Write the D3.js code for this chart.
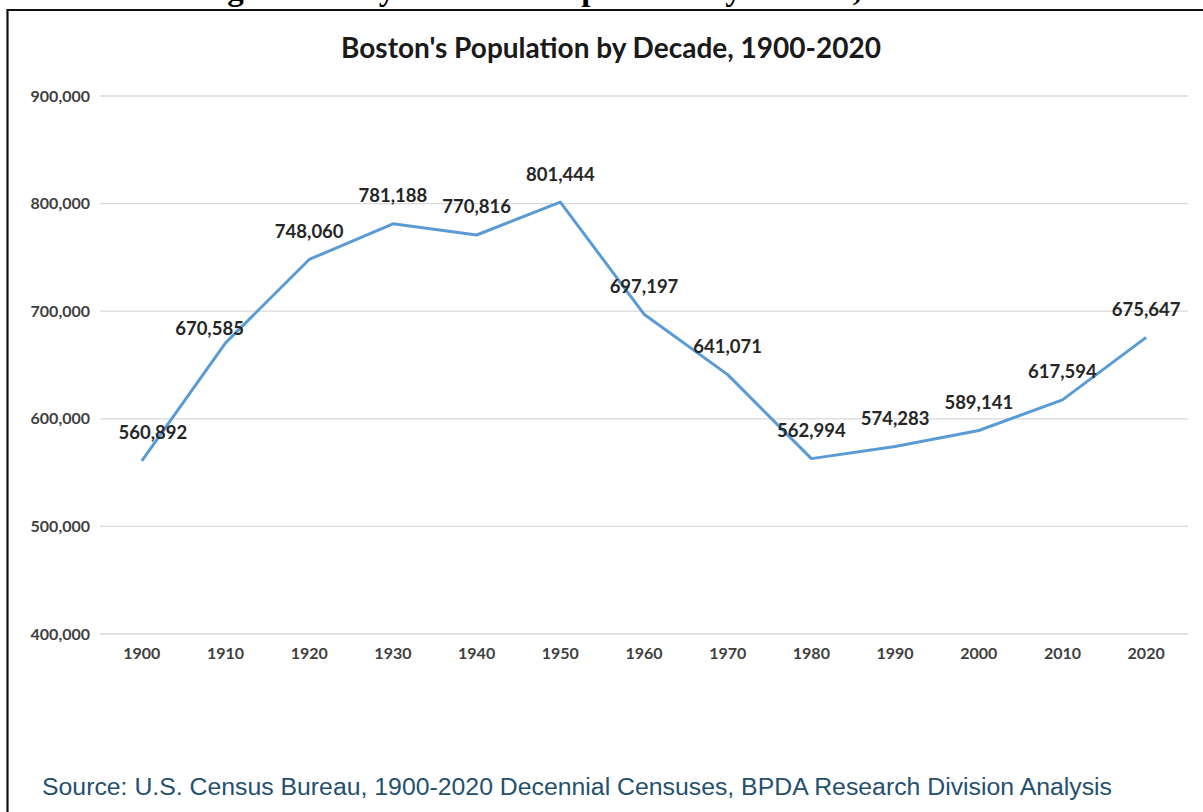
<!DOCTYPE html>
<meta charset="utf-8">
<title>Boston's Population by Decade</title>
<style>
	body {
		margin: 0;
		background: #fff;
	}

	svg {
		display: block;
	}

	.grid line {
		stroke: #d9d9d9;
		stroke-width: 1.3;
	}

	.tick-label {
		font-family: Lato, "Open Sans", sans-serif;
		font-weight: 700;
		font-size: 16px;
		fill: #404040;
	}

	.val-label {
		font-family: Lato, "Open Sans", sans-serif;
		font-weight: 700;
		font-size: 18.5px;
		fill: #262626;
	}
</style>

<body>
	<div id="chart"></div>

	<script src="https://cdn.jsdelivr.net/npm/d3@7"></script>
	<script>
		// les données
		var decades = ["1900", "1910", "1920", "1930", "1940", "1950", "1960",
			"1970", "1980", "1990", "2000", "2010", "2020"];
		var population = [560892, 670585, 748060, 781188, 770816, 801444, 697197,
			641071, 562994, 574283, 589141, 617594, 675647];
		var yTicks = [400000, 500000, 600000, 700000, 800000, 900000];

		var width = 1203,
			height = 812;

		var svg = d3.select("#chart").append("svg")
			.attr("width", width)
			.attr("height", height);

		// titre du document, coupé en haut comme dans l'original
		svg.append("text")
			.attr("x", 605)
			.attr("y", 0)
			.attr("text-anchor", "middle")
			.style("font-family", "'Liberation Serif', serif")
			.style("font-weight", "700")
			.style("font-size", "33px")
			.text("Figure 1: City of Boston Population by Decade, 1900-2020");

		// cadre
		svg.append("path")
			.attr("d", "M" + 7.5 + "," + height + "V" + 10 + "H" + width)
			.attr("fill", "none")
			.attr("stroke", "#111")
			.attr("stroke-width", 2.2);

		// titre du graphique
		svg.append("text")
			.attr("x", 611)
			.attr("y", 58)
			.attr("text-anchor", "middle")
			.style("font-family", "Lato, 'Open Sans', sans-serif")
			.style("font-weight", "700")
			.style("font-size", "28px")
			.style("fill", "#1a1a1a")
			.text("Boston's Population by Decade, 1900-2020");

		// échelles
		var x = d3.scaleBand()
			.domain(decades)
			.range([100, 1188]);

		var y = d3.scaleLinear()
			.domain([400000, 900000])
			.range([634, 96]);

		// grille
		svg.append("g")
			.attr("class", "grid")
			.selectAll("line")
			.data(yTicks)
			.enter().append("line")
			.attr("x1", 100)
			.attr("x2", 1188)
			.attr("y1", function (d) { return y(d); })
			.attr("y2", function (d) { return y(d); });

		var fmt = d3.format(",");

		// étiquettes axe y
		svg.append("g")
			.selectAll("text")
			.data(yTicks)
			.enter().append("text")
			.attr("class", "tick-label")
			.attr("x", 90)
			.attr("y", function (d) { return y(d); })
			.attr("dy", "0.35em")
			.attr("text-anchor", "end")
			.text(function (d) { return fmt(d); });

		// étiquettes axe x
		svg.append("g")
			.selectAll("text")
			.data(decades)
			.enter().append("text")
			.attr("class", "tick-label")
			.attr("x", function (d) { return x(d) + x.bandwidth() / 2; })
			.attr("y", 659)
			.attr("text-anchor", "middle")
			.text(function (d) { return d; });

		// la ligne
		var line = d3.line()
			.x(function (d, i) { return x(decades[i]) + x.bandwidth() / 2; })
			.y(function (d) { return y(d); });

		svg.append("path")
			.datum(population)
			.attr("d", line)
			.attr("fill", "none")
			.attr("stroke", "#5b9bd5")
			.attr("stroke-width", 3)
			.attr("stroke-linejoin", "round");

		// étiquettes des valeurs (décalage spécial pour 1900 et 1910)
		svg.append("g")
			.selectAll("text")
			.data(population)
			.enter().append("text")
			.attr("class", "val-label")
			.attr("x", function (d, i) {
				var cx = x(decades[i]) + x.bandwidth() / 2;
				if (i === 0) return cx + 11;
				if (i === 1) return cx - 16;
				return cx;
			})
			.attr("y", function (d, i) {
				var off = (i === 1) ? -14 : -28;
				return y(d) + off;
			})
			.attr("dy", "0.35em")
			.attr("text-anchor", "middle")
			.text(function (d) { return fmt(d); });

		// source
		svg.append("text")
			.attr("x", 42)
			.attr("y", 795)
			.attr("textLength", 1070)
			.attr("lengthAdjust", "spacingAndGlyphs")
			.style("font-family", "'Liberation Sans', Arial, sans-serif")
			.style("font-size", "23px")
			.style("fill", "#24506e")
			.text("Source: U.S. Census Bureau, 1900-2020 Decennial Censuses, BPDA Research Division Analysis");
	</script>
</body>
